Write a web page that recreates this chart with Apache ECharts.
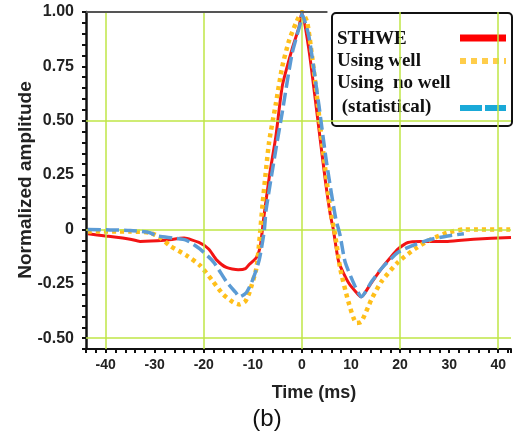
<!DOCTYPE html>
<html>
<head>
<meta charset="utf-8">
<script src="https://cdn.jsdelivr.net/npm/echarts@6/dist/echarts.min.js"></script>
<style>
  html, body { margin: 0; padding: 0; background: #fff; }
  #chart { width: 514px; height: 439px; }
</style>
</head>
<body>
<div id="chart"></div>
<script>
// STHWE (red, solid)
var sthweTime = [-43.6, -40, -35, -33, -28, -24, -21, -19, -17.4, -15.4, -13, -11.5, -10.7, -9.3, -8.5, -7.8, -6.6, -5.3, -4, -2, -0.6, 0,
  1.4, 2.6, 3.8, 4.8, 5.8, 6.4, 7.5, 9.5, 11.5, 12.1, 14, 16.2, 18, 19.6, 21.6, 24, 26.3, 29.7, 35, 42.6];
var sthweAmp = [-0.02, -0.03, -0.045, -0.055, -0.05, -0.04, -0.06, -0.09, -0.14, -0.175, -0.185, -0.18, -0.16, -0.13, -0.08, 0.05, 0.25, 0.43, 0.66, 0.83, 0.93, 1.0,
  0.83, 0.62, 0.40, 0.22, 0.065, 0.0, -0.15, -0.245, -0.30, -0.31, -0.25, -0.18, -0.13, -0.09, -0.06, -0.055, -0.055, -0.055, -0.045, -0.037];

// Using well (yellow, dotted)
var wellTime = [-43.6, -35, -31, -29, -26.9, -23.5, -20.8, -18.1, -16, -14, -12.7, -11.5, -10.7, -9.3, -8.7, -8, -6.7, -5.3, -4, -2.6, -1.2, 0,
  1.1, 2.8, 4.1, 5.8, 6.8, 7.8, 9.5, 11.1, 12.1, 14.2, 16.2, 19.6, 23, 26.3, 29.7, 33, 42.6];
var wellAmp = [-0.01, -0.01, -0.015, -0.035, -0.075, -0.12, -0.165, -0.24, -0.30, -0.335, -0.345, -0.33, -0.29, -0.18, -0.06, 0.12, 0.40, 0.58, 0.75, 0.87, 0.95, 1.0,
  0.95, 0.66, 0.40, 0.09, -0.03, -0.18, -0.335, -0.43, -0.425, -0.32, -0.24, -0.15, -0.09, -0.045, -0.015, 0.0, 0.0];

// Using no well (statistical) (blue, dashed)
var noWellTime = [-43.6, -35, -31, -29.5, -26.2, -23.5, -20.8, -18, -15.4, -13.5, -12.7, -11.3, -10, -8.7, -7.7, -7.3, -5.3, -4, -2, -0.3, 0,
  1.4, 3.4, 5, 6.8, 7.8, 8.8, 10.8, 12.1, 14.2, 16.2, 19.6, 23, 26.3, 29.7, 33];
var noWellAmp = [0, -0.005, -0.015, -0.03, -0.04, -0.05, -0.09, -0.15, -0.24, -0.29, -0.31, -0.29, -0.23, -0.14, -0.01, 0.09, 0.37, 0.54, 0.81, 0.95, 0.99,
  0.89, 0.58, 0.31, 0.06, -0.03, -0.15, -0.26, -0.31, -0.24, -0.18, -0.105, -0.07, -0.045, -0.03, -0.02];

var gridTimes = [-40, -20, 0, 20, 40];
var gridAmps = [0.5, 0, -0.5];

function pairs(xs, ys) {
  return xs.map(function (x, i) { return [x, ys[i]]; });
}

var chart = echarts.init(document.getElementById('chart'));

var gridColor = '#bfe646';
var gridLines = gridTimes.map(function (t) {
  return { xAxis: t };
}).concat(gridAmps.map(function (a) {
  return { yAxis: a };
}));

var legendFont = 'bold 19px "Liberation Serif"';

var option = {
  animation: false,
  grid: { left: 86, top: 12, right: 1, bottom: 90 },
  xAxis: {
    type: 'value',
    min: -44,
    max: 42.6,
    interval: 2,
    splitLine: { show: false },
    axisLine: { onZero: false, lineStyle: { color: '#111', width: 2 } },
    axisTick: { length: 4, lineStyle: { color: '#111', width: 2 } },
    axisLabel: {
      margin: 9,
      color: '#222',
      fontFamily: 'Liberation Sans',
      fontWeight: 'bold',
      fontSize: 14,
      formatter: function (v) {
        var r = Math.round(v);
        return (r % 10 === 0 && Math.abs(v - r) < 1e-6) ? String(r) : '';
      }
    }
  },
  yAxis: {
    type: 'value',
    min: -0.55,
    max: 1.0,
    interval: 0.05,
    splitLine: { show: false },
    axisLine: { onZero: false, lineStyle: { color: '#111', width: 2.5 } },
    axisTick: { length: 4, lineStyle: { color: '#111', width: 2 } },
    axisLabel: {
      margin: 12,
      color: '#222',
      fontFamily: 'Liberation Sans',
      fontWeight: 'bold',
      fontSize: 16,
      formatter: function (v) {
        var q = v * 4;
        if (Math.abs(q - Math.round(q)) > 1e-6) return '';
        var r = Math.round(q) / 4;
        return r === 0 ? '0' : r.toFixed(2);
      }
    }
  },
  series: [
    {
      // background grid lines + top border
      type: 'line',
      data: [],
      z: 1,
      silent: true,
      markLine: {
        silent: true,
        symbol: 'none',
        label: { show: false },
        lineStyle: { color: gridColor, width: 1.5, type: 'solid' },
        data: gridLines.concat([[
          { coord: [-44, 1.0], lineStyle: { color: '#555', width: 2, type: 'solid' } },
          { coord: [5.2, 1.0] }
        ]])
      }
    },
    {
      name: 'STHWE',
      type: 'line',
      data: pairs(sthweTime, sthweAmp),
      showSymbol: false,
      smooth: 0.2,
      z: 3,
      lineStyle: { color: '#f21414', width: 3 }
    },
    {
      name: 'Using well',
      type: 'line',
      data: pairs(wellTime, wellAmp),
      showSymbol: false,
      smooth: 0.2,
      z: 4,
      lineStyle: { color: '#ffbf1a', width: 4.5, type: [4, 4] }
    },
    {
      name: 'Using no well (statistical)',
      type: 'line',
      data: pairs(noWellTime, noWellAmp),
      showSymbol: false,
      smooth: 0.2,
      z: 5,
      lineStyle: { color: '#5b9bd5', width: 3.5, type: [13, 5] }
    }
  ],
  graphic: [
    {
      type: 'text',
      x: 26, y: 180,
      rotation: Math.PI / 2,
      style: {
        text: 'Normalized amplitude',
        font: 'bold 19px "Liberation Sans"',
        fill: '#222',
        align: 'center',
        verticalAlign: 'middle'
      }
    },
    {
      type: 'text',
      x: 314, y: 393,
      style: {
        text: 'Time (ms)',
        font: 'bold 18px "Liberation Sans"',
        fill: '#222',
        align: 'center',
        verticalAlign: 'middle'
      }
    },
    {
      type: 'text',
      x: 267, y: 419,
      style: {
        text: '(b)',
        font: '24px "Liberation Sans"',
        fill: '#111',
        align: 'center',
        verticalAlign: 'middle'
      }
    },
    {
      type: 'group',
      z: 100,
      children: [
        {
          type: 'rect',
          shape: { x: 332, y: 13, width: 180, height: 113, r: 4 },
          style: { fill: '#fff', stroke: '#111', lineWidth: 2 }
        },
        { type: 'text', x: 337, y: 39, style: { text: 'STHWE', font: legendFont, fill: '#111', verticalAlign: 'middle' } },
        { type: 'text', x: 337, y: 61, style: { text: 'Using well', font: legendFont, fill: '#111', verticalAlign: 'middle' } },
        { type: 'text', x: 337, y: 83, style: { text: 'Using  no well', font: legendFont, fill: '#111', verticalAlign: 'middle' } },
        { type: 'text', x: 337, y: 107, style: { text: ' (statistical)', font: legendFont, fill: '#111', verticalAlign: 'middle' } },
        { type: 'line', shape: { x1: 460, y1: 38, x2: 506, y2: 38 }, style: { stroke: '#ff0000', lineWidth: 7 } },
        { type: 'line', shape: { x1: 460, y1: 61, x2: 506, y2: 61 }, style: { stroke: '#ffcd4a', lineWidth: 6, lineDash: [6, 5] } },
        { type: 'line', shape: { x1: 460, y1: 108, x2: 506, y2: 108 }, style: { stroke: '#1aa9d8', lineWidth: 6, lineDash: [22, 3] } }
      ]
    }
  ]
};

chart.setOption(option);
</script>
</body>
</html>
